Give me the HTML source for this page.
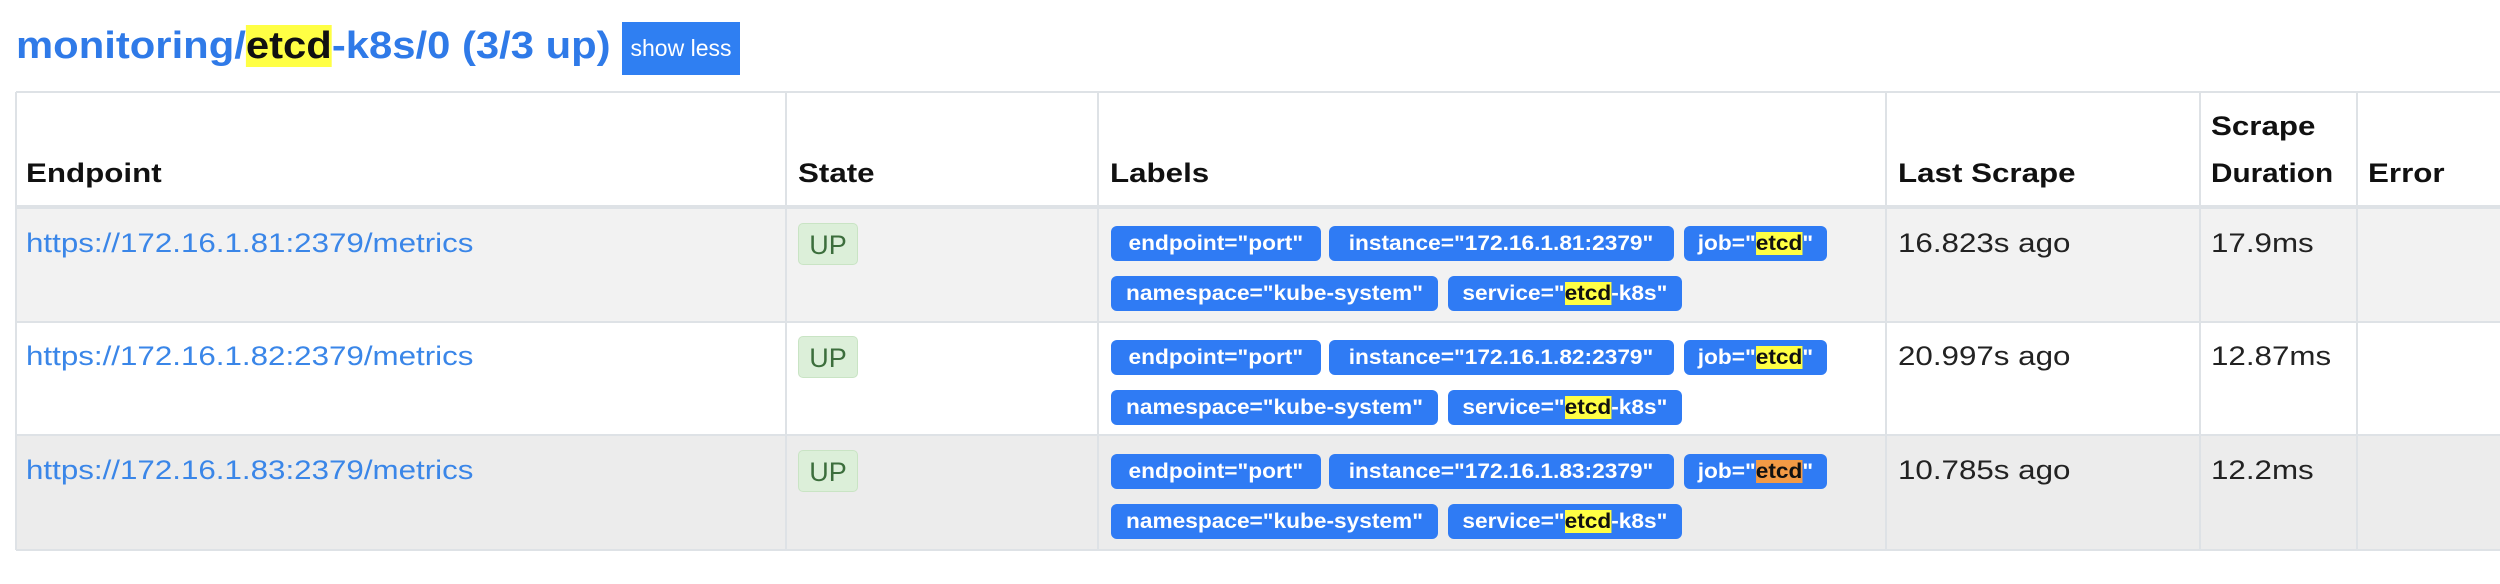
<!DOCTYPE html>
<html><head><meta charset="utf-8"><style>
body{margin:0;width:2500px;height:584px;background:#fff;position:relative;overflow:hidden;font-family:"Liberation Sans",sans-serif;}
.a{position:absolute;white-space:nowrap;}
.s{transform:scaleX(1.16);transform-origin:left center;}
.title{left:16px;top:21px;font-size:38px;font-weight:bold;color:#2f7ae8;line-height:50px;transform:scaleX(1.1);transform-origin:left center;}
.hl{background:#ffff44;color:#111;}
.hlo{background:#f29a45;color:#111;}
.btn{left:622px;top:22px;width:118px;height:53px;background:#2f7ff2;color:#fff;font-size:23px;line-height:53px;text-align:center;}
.row{position:absolute;left:16px;width:2484px;}
.vl{position:absolute;top:92px;height:458px;width:2px;background:#dee2e6;}
.hl1{position:absolute;left:16px;width:2484px;height:2px;background:#dee2e6;}
.th{font-weight:bold;font-size:27px;color:#111;}
.td{font-size:27px;color:#222;}
.link{font-size:27px;color:#3a86e8;}
.up{width:60px;height:42px;background:#dcefd9;border:1px solid #c9e4c4;border-radius:5px;color:#3c6e3c;font-size:27px;line-height:42px;text-align:center;box-sizing:border-box;}
.lb{height:35px;background:#2f7bf4;border-radius:6px;color:#fff;font-weight:bold;font-size:21px;line-height:35px;text-align:center;}
.lb span.t{display:inline-block;transform:scaleX(1.08);}
</style></head><body>
<div class="a title">monitoring/<span class="hl">etcd</span>-k8s/0 (3/3 up)</div>
<div class="a btn">show less</div>

<div class="row" style="top:92px;height:115px;background:#fff"></div>
<div class="row" style="top:207px;height:115px;background:#f2f2f2"></div>
<div class="row" style="top:322px;height:113px;background:#fff"></div>
<div class="row" style="top:435px;height:115px;background:#ececec"></div>
<div class="hl1" style="top:91px"></div>
<div class="hl1" style="top:205px;height:4px"></div>
<div class="hl1" style="top:321px"></div>
<div class="hl1" style="top:434px"></div>
<div class="hl1" style="top:549px"></div>
<div class="vl" style="left:15px"></div>
<div class="vl" style="left:785px"></div>
<div class="vl" style="left:1097px"></div>
<div class="vl" style="left:1885px"></div>
<div class="vl" style="left:2199px"></div>
<div class="vl" style="left:2356px"></div>

<div class="a th s" style="left:26px;top:158px">Endpoint</div>
<div class="a th s" style="left:798px;top:158px">State</div>
<div class="a th s" style="left:1110px;top:158px">Labels</div>
<div class="a th s" style="left:1898px;top:158px">Last Scrape</div>
<div class="a th s" style="left:2211px;top:111px">Scrape</div>
<div class="a th" style="left:2211px;top:158px;transform:scaleX(1.1);transform-origin:left center">Duration</div>
<div class="a th s" style="left:2368px;top:158px">Error</div>

<!-- row1 -->
<div class="a link s" style="left:26px;top:228px">https://172.16.1.81:2379/metrics</div>
<div class="a up" style="left:798px;top:223px">UP</div>
<div class="a lb" style="left:1111px;top:226px;width:210px"><span class="t">endpoint="port"</span></div>
<div class="a lb" style="left:1329px;top:226px;width:345px"><span class="t">instance="172.16.1.81:2379"</span></div>
<div class="a lb" style="left:1684px;top:226px;width:143px"><span class="t">job="<span class="hl">etcd</span>"</span></div>
<div class="a lb" style="left:1111px;top:276px;width:327px"><span class="t">namespace="kube-system"</span></div>
<div class="a lb" style="left:1448px;top:276px;width:234px"><span class="t">service="<span class="hl">etcd</span>-k8s"</span></div>
<div class="a td s" style="left:1898px;top:228px">16.823s ago</div>
<div class="a td s" style="left:2211px;top:228px">17.9ms</div>

<!-- row2 -->
<div class="a link s" style="left:26px;top:341px">https://172.16.1.82:2379/metrics</div>
<div class="a up" style="left:798px;top:336px">UP</div>
<div class="a lb" style="left:1111px;top:340px;width:210px"><span class="t">endpoint="port"</span></div>
<div class="a lb" style="left:1329px;top:340px;width:345px"><span class="t">instance="172.16.1.82:2379"</span></div>
<div class="a lb" style="left:1684px;top:340px;width:143px"><span class="t">job="<span class="hl">etcd</span>"</span></div>
<div class="a lb" style="left:1111px;top:390px;width:327px"><span class="t">namespace="kube-system"</span></div>
<div class="a lb" style="left:1448px;top:390px;width:234px"><span class="t">service="<span class="hl">etcd</span>-k8s"</span></div>
<div class="a td s" style="left:1898px;top:341px">20.997s ago</div>
<div class="a td s" style="left:2211px;top:341px">12.87ms</div>

<!-- row3 -->
<div class="a link s" style="left:26px;top:455px">https://172.16.1.83:2379/metrics</div>
<div class="a up" style="left:798px;top:450px">UP</div>
<div class="a lb" style="left:1111px;top:454px;width:210px"><span class="t">endpoint="port"</span></div>
<div class="a lb" style="left:1329px;top:454px;width:345px"><span class="t">instance="172.16.1.83:2379"</span></div>
<div class="a lb" style="left:1684px;top:454px;width:143px"><span class="t">job="<span class="hlo">etcd</span>"</span></div>
<div class="a lb" style="left:1111px;top:504px;width:327px"><span class="t">namespace="kube-system"</span></div>
<div class="a lb" style="left:1448px;top:504px;width:234px"><span class="t">service="<span class="hl">etcd</span>-k8s"</span></div>
<div class="a td s" style="left:1898px;top:455px">10.785s ago</div>
<div class="a td s" style="left:2211px;top:455px">12.2ms</div>
</body></html>
